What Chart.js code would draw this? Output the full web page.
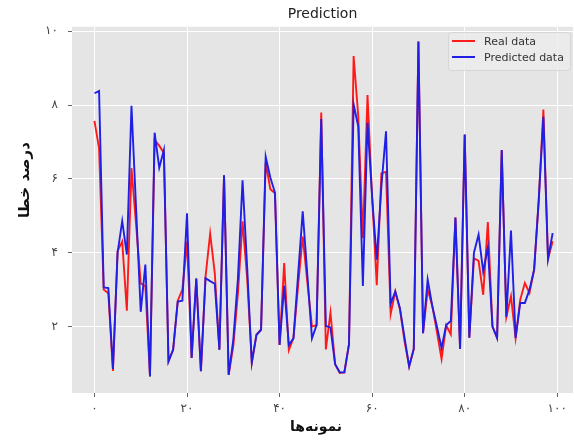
<!DOCTYPE html>
<html>
<head>
<meta charset="utf-8">
<script src="https://cdn.jsdelivr.net/npm/chart.js@4.4.1/dist/chart.umd.min.js"></script>
<style>
  html, body { margin: 0; padding: 0; background: #fff; }
  #predictionChart { display: block; }
</style>
</head>
<body>
<canvas id="predictionChart" width="574" height="443"></canvas>
<script>
// values, sample 0..99
const realData = [
    7.57, 6.83, 3.00, 2.90, 0.80, 4.05, 4.30, 2.43, 6.29, 4.75,
    3.17, 3.09, 0.65, 7.05, 6.90, 6.70, 1.06, 1.38, 2.70, 3.00,
    4.30, 1.15, 3.30, 0.79, 3.35, 4.52, 3.45, 1.38, 6.10, 0.70,
    1.47, 2.90, 4.85, 3.30, 1.02, 1.78, 1.92, 6.45, 5.72, 5.61,
    1.50, 3.72, 1.36, 1.69, 3.10, 4.44, 3.20, 2.00, 2.04, 7.80,
    1.38, 2.38, 0.98, 0.74, 0.76, 1.52, 9.33, 7.70, 4.40, 8.27,
    5.50, 3.12, 6.15, 6.19, 2.34, 2.95, 2.47, 1.60, 0.92, 1.39,
    9.72, 1.82, 3.00, 2.56, 1.85, 1.12, 2.03, 1.79, 4.95, 1.39,
    7.20, 1.70, 3.85, 3.78, 2.86, 4.83, 2.00, 1.69, 6.78, 2.26,
    2.82, 1.69, 2.73, 3.18, 2.91, 3.54, 5.43, 7.88, 3.83, 4.31
];

const predictedData = [
    8.32, 8.38, 3.06, 3.04, 0.85, 4.00, 4.86, 3.95, 7.98, 5.20,
    2.40, 3.68, 0.65, 7.25, 6.30, 6.78, 1.06, 1.37, 2.68, 2.70,
    5.07, 1.15, 3.30, 0.79, 3.31, 3.23, 3.16, 1.37, 6.10, 0.69,
    1.64, 3.30, 5.96, 3.60, 1.03, 1.77, 1.91, 6.60, 6.04, 5.63,
    1.50, 3.10, 1.50, 1.68, 3.40, 5.12, 3.40, 1.68, 2.04, 7.62,
    2.02, 1.97, 0.98, 0.76, 0.76, 1.52, 8.02, 7.42, 3.10, 7.53,
    5.50, 3.81, 5.80, 7.29, 2.62, 2.95, 2.50, 1.70, 0.92, 1.40,
    9.72, 1.82, 3.27, 2.55, 2.00, 1.42, 2.04, 2.15, 4.95, 1.39,
    7.20, 1.70, 4.00, 4.49, 3.49, 4.15, 2.00, 1.69, 6.78, 2.26,
    4.60, 1.69, 2.64, 2.64, 3.00, 3.54, 5.43, 7.68, 3.83, 4.53
];

const xTickValues = [0, 20, 40, 60, 80, 100];
const xTickLabels = ['۰', '۲۰', '۴۰', '۶۰', '۸۰', '۱۰۰'];
const yTickValues = [2, 4, 6, 8, 10];
const yTickLabels = ['۲', '۴', '۶', '۸', '۱۰'];

const seriesNames = ['Real data', 'Predicted data'];
const chartTitle = 'Prediction';
const xAxisTitle = 'نمونه‌ها';
const yAxisTitle = 'درصد خطا';

const fontFamily = '"DejaVu Sans", sans-serif';

function toPoints(values) {
    return values.map((v, i) => ({ x: i, y: v }));
}

// gray plot background, ggplot style
const plotBackground = {
    id: 'plotBackground',
    beforeDraw(chart) {
        const { ctx, chartArea } = chart;
        ctx.save();
        ctx.fillStyle = '#e5e5e5';
        ctx.fillRect(chartArea.left, chartArea.top, chartArea.right - chartArea.left, chartArea.bottom - chartArea.top);
        ctx.restore();
    }
};

// axis titles + legend box in the upper right corner
const extras = {
    id: 'extras',
    afterDraw(chart) {
        const ctx = chart.ctx;
        const area = chart.chartArea;
        ctx.save();

        // axis titles
        ctx.fillStyle = '#111';
        ctx.textAlign = 'center';
        ctx.textBaseline = 'middle';
        ctx.font = 'bold 14px ' + fontFamily;
        ctx.fillText(xAxisTitle, 316, 427);

        ctx.font = 'bold 15px ' + fontFamily;
        ctx.save();
        ctx.translate(25, 180);
        ctx.rotate(-Math.PI / 2);
        ctx.fillText(yAxisTitle, 0, 0);
        ctx.restore();

        // legend
        const boxLeft = 448, boxTop = 32, boxW = area.right - 3 - boxLeft, boxH = 38;
        ctx.fillStyle = 'rgba(236,236,236,0.85)';
        ctx.strokeStyle = '#d6d6d6';
        ctx.lineWidth = 1;
        ctx.beginPath();
        ctx.roundRect(boxLeft + 0.5, boxTop + 0.5, boxW, boxH, 3);
        ctx.fill();
        ctx.stroke();

        ctx.font = '11px ' + fontFamily;
        ctx.textAlign = 'left';
        chart.data.datasets.forEach(function(ds, i) {
            const y = boxTop + 9 + i * 16;
            ctx.strokeStyle = ds.borderColor;
            ctx.lineWidth = 2;
            ctx.beginPath();
            ctx.moveTo(452, y);
            ctx.lineTo(475, y);
            ctx.stroke();
            ctx.fillStyle = '#333';
            ctx.fillText(ds.label, 484, y + 1);
        });

        ctx.restore();
    }
};

const chartCanvas = document.querySelector('#predictionChart').getContext('2d');

const predictionChart = new Chart(chartCanvas, {
    type: 'line',
    data: {
        datasets: [
            {
                label: seriesNames[0],
                data: toPoints(realData),
                borderColor: '#ff1a1a',
                backgroundColor: '#ff1a1a',
                borderWidth: 1.9,
                pointRadius: 0,
                tension: 0,
                order: 2
            },
            {
                label: seriesNames[1],
                data: toPoints(predictedData),
                borderColor: '#1f1fe6',
                backgroundColor: '#1f1fe6',
                borderWidth: 1.9,
                pointRadius: 0,
                tension: 0,
                order: 1
            }
        ]
    },
    options: {
        responsive: false,
        animation: false,
        devicePixelRatio: 1,
        layout: {
            padding: { top: 0, right: 1, bottom: 0, left: 0 }
        },
        plugins: {
            legend: { display: false },
            tooltip: { enabled: false },
            title: {
                display: true,
                text: chartTitle,
                fullSize: false,
                color: '#222',
                font: { family: fontFamily, size: 14, weight: 'normal' },
                padding: { top: 6, bottom: 4 }
            }
        },
        scales: {
            x: {
                type: 'linear',
                min: -4.85,
                max: 103.4,
                border: { display: false },
                grid: {
                    color: '#ffffff',
                    lineWidth: 1,
                    tickColor: '#666',
                    tickLength: 4
                },
                ticks: {
                    padding: 5,
                    color: '#444',
                    font: { family: fontFamily, size: 12 },
                    maxRotation: 0,
                    callback: function(value) {
                        const idx = xTickValues.indexOf(value);
                        return idx >= 0 ? xTickLabels[idx] : '';
                    }
                },
                afterBuildTicks: function(scale) {
                    scale.ticks = xTickValues.map(v => ({ value: v }));
                },
                afterFit: function(scale) {
                    scale.height = 50;
                }
            },
            y: {
                type: 'linear',
                min: 0.2,
                max: 10.12,
                border: { display: false },
                grid: {
                    color: '#ffffff',
                    lineWidth: 1,
                    tickColor: '#666',
                    tickLength: 4
                },
                ticks: {
                    padding: 10,
                    color: '#444',
                    font: { family: fontFamily, size: 12 },
                    callback: function(value) {
                        const idx = yTickValues.indexOf(value);
                        return idx >= 0 ? yTickLabels[idx] : '';
                    }
                },
                afterBuildTicks: function(scale) {
                    scale.ticks = yTickValues.map(v => ({ value: v }));
                },
                afterFit: function(scale) {
                    scale.width = 72;
                }
            }
        }
    },
    plugins: [plotBackground, extras]
});
</script>
</body>
</html>
